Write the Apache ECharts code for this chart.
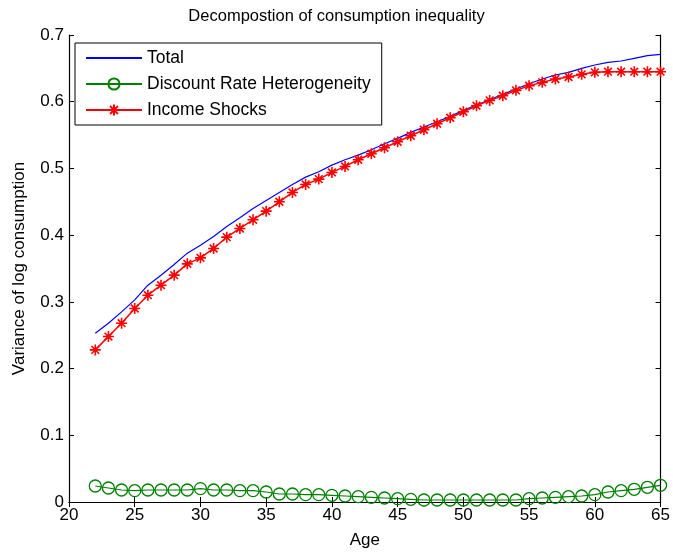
<!DOCTYPE html>
<html><head><meta charset="utf-8">
<script src="https://cdn.jsdelivr.net/npm/echarts@6/dist/echarts.min.js"></script>
<style>html,body{margin:0;padding:0;background:#fff}#c{width:673px;height:554px}</style>
</head><body><div id="c"></div>
<script>
const ages = [22,23,24,25,26,27,28,29,30,31,32,33,34,35,36,37,38,39,40,41,42,43,44,45,46,47,48,49,50,51,52,53,54,55,56,57,58,59,60,61,62,63,64,65];
const total = [0.253,0.268,0.285,0.303,0.325,0.340,0.356,0.373,0.385,0.398,0.413,0.426,0.440,0.452,0.464,0.476,0.487,0.495,0.505,0.513,0.520,0.528,0.537,0.545,0.554,0.562,0.570,0.578,0.587,0.595,0.603,0.611,0.619,0.627,0.634,0.640,0.644,0.650,0.655,0.659,0.661,0.665,0.669,0.671];
const discount = [0.024,0.021,0.018,0.017,0.018,0.018,0.018,0.018,0.020,0.018,0.018,0.017,0.017,0.015,0.012,0.012,0.011,0.011,0.010,0.009,0.008,0.007,0.006,0.005,0.004,0.003,0.003,0.003,0.003,0.003,0.003,0.003,0.003,0.005,0.006,0.007,0.008,0.009,0.011,0.015,0.017,0.019,0.022,0.025];
const income = [0.228,0.248,0.268,0.290,0.310,0.325,0.340,0.357,0.366,0.380,0.397,0.410,0.423,0.436,0.450,0.464,0.476,0.484,0.494,0.503,0.513,0.522,0.531,0.540,0.549,0.558,0.567,0.576,0.585,0.594,0.602,0.609,0.617,0.624,0.629,0.634,0.637,0.641,0.644,0.645,0.645,0.645,0.645,0.645];
const seriesNames = ['Total','Discount Rate Heterogeneity','Income Shocks'];

const star = 'path://M0,5L10,5M5,0L5,10M1.5,1.5L8.5,8.5M8.5,1.5L1.5,8.5';
const font = 'Liberation Sans, Arial, sans-serif';
const narrow = 'Liberation Sans Narrow, Arial Narrow, Liberation Sans, sans-serif';
const axisCommon = {
  axisLine:{show:true,lineStyle:{color:'#000',width:1.2}},
  axisTick:{show:true,inside:true,length:5,lineStyle:{color:'#000'}},
  splitLine:{show:false}
};
const chart = echarts.init(document.getElementById('c'));
chart.setOption({
  animation:false,
  backgroundColor:'#fff',
  title:{text:'Decompostion of consumption inequality',left:'center',top:3,
    textStyle:{fontFamily:narrow,fontSize:16.5,fontWeight:'normal',color:'#000'}},
  grid:{left:69,right:10,top:35,bottom:50},
  legend:{orient:'vertical',left:75,top:43,
    data:seriesNames,
    backgroundColor:'#fff',borderColor:'#000',borderWidth:1,
    padding:[6,11,6,10],itemGap:8,itemWidth:56,itemHeight:14,
    textStyle:{fontFamily:font,fontSize:17.5,color:'#000'}},
  xAxis:[
    Object.assign({type:'value',min:20,max:65,interval:5,position:'bottom',
      name:'Age',nameLocation:'middle',nameGap:30,
      nameTextStyle:{fontFamily:font,fontSize:17,color:'#000'},
      axisLabel:{fontFamily:font,fontSize:17,color:'#000',margin:5}},axisCommon),
    Object.assign({type:'value',min:20,max:65,interval:5,position:'top',
      axisLabel:{show:false}},axisCommon)
  ],
  yAxis:[
    Object.assign({type:'value',min:0,max:0.7,interval:0.1,position:'left',
      name:'Variance of log consumption',nameLocation:'middle',nameGap:41,
      nameTextStyle:{fontFamily:font,fontSize:17,color:'#000'},
      axisLabel:{fontFamily:narrow,fontSize:17,color:'#000',margin:5,
        formatter:v=>v===0?'0':v.toFixed(1)}},axisCommon),
    Object.assign({type:'value',min:0,max:0.7,interval:0.1,position:'right',
      axisLabel:{show:false}},axisCommon)
  ],
  series:[
    {name:seriesNames[0],type:'line',data:ages.map((a,i)=>[a,total[i]]),
      showSymbol:false,symbol:'circle',lineStyle:{color:'#0000ff',width:1.2},
      itemStyle:{color:'rgba(0,0,0,0)',borderWidth:0}},
    {name:seriesNames[1],type:'line',data:ages.map((a,i)=>[a,discount[i]]),
      symbol:'circle',symbolSize:12,lineStyle:{color:'#008000',width:1.2},
      itemStyle:{color:'none',borderColor:'#008000',borderWidth:1.3}},
    {name:seriesNames[2],type:'line',data:ages.map((a,i)=>[a,income[i]]),
      symbol:star,symbolSize:11,lineStyle:{color:'#ff0000',width:1.5},
      itemStyle:{color:'none',borderColor:'#ff0000',borderWidth:1.6}}
  ]
});
</script></body></html>
